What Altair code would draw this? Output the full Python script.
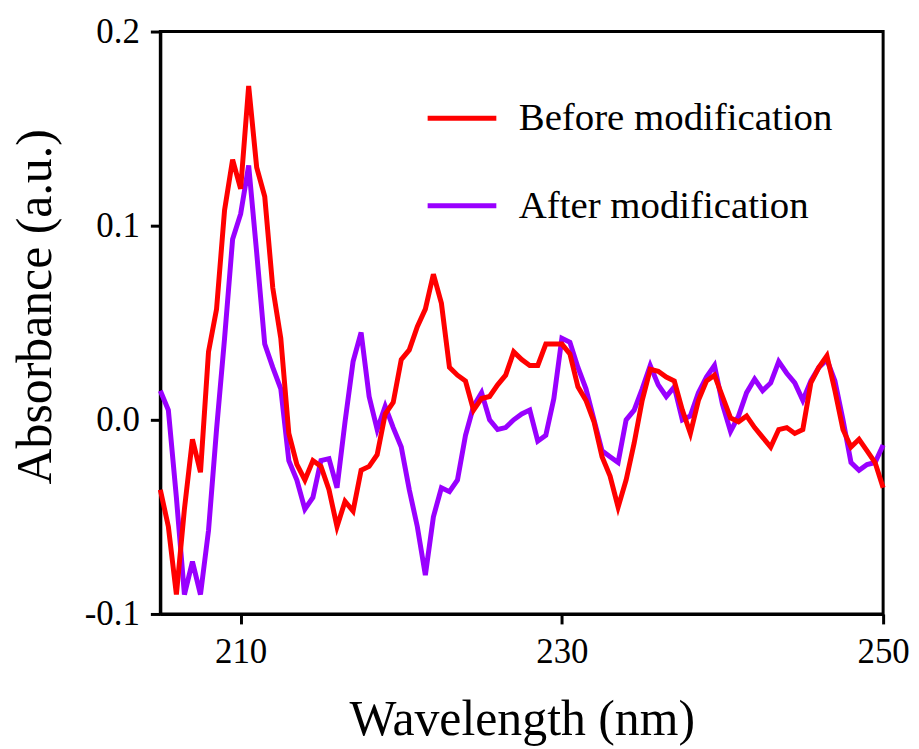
import altair as alt
import pandas as pd

wavelength = [205.0, 205.5, 206.0, 206.5, 207.0, 207.5, 208.0, 208.5, 209.0, 209.5,
              210.0, 210.5, 211.0, 211.5, 212.0, 212.5, 213.0, 213.5, 214.0, 214.5,
              215.0, 215.5, 216.0, 216.5, 217.0, 217.5, 218.0, 218.5, 219.0, 219.5,
              220.0, 220.5, 221.0, 221.5, 222.0, 222.5, 223.0, 223.5, 224.0, 224.5,
              225.0, 225.5, 226.0, 226.5, 227.0, 227.5, 228.0, 228.5, 229.0, 229.5,
              230.0, 230.5, 231.0, 231.5, 232.0, 232.5, 233.0, 233.5, 234.0, 234.5,
              235.0, 235.5, 236.0, 236.5, 237.0, 237.5, 238.0, 238.5, 239.0, 239.5,
              240.0, 240.5, 241.0, 241.5, 242.0, 242.5, 243.0, 243.5, 244.0, 244.5,
              245.0, 245.5, 246.0, 246.5, 247.0, 247.5, 248.0, 248.5, 249.0, 249.5,
              250.0]

before = [-0.036, -0.055, -0.090, -0.046, -0.010, -0.027, 0.035, 0.057, 0.108, 0.134,
          0.119, 0.172, 0.130, 0.115, 0.068, 0.042, -0.007, -0.023, -0.031, -0.021,
          -0.024, -0.036, -0.055, -0.042, -0.047, -0.026, -0.024, -0.018, 0.003, 0.009,
          0.031, 0.036, 0.048, 0.057, 0.075, 0.060, 0.027, 0.023, 0.020, 0.005,
          0.011, 0.012, 0.018, 0.023, 0.035, 0.031, 0.028, 0.028, 0.039, 0.039,
          0.039, 0.034, 0.017, 0.010, -0.001, -0.019, -0.029, -0.045, -0.031, -0.012,
          0.010, 0.026, 0.025, 0.022, 0.020, 0.005, -0.007, 0.010, 0.020, 0.023,
          0.012, 0.001, -0.001, 0.002, -0.004, -0.009, -0.014, -0.005, -0.004, -0.007,
          -0.005, 0.019, 0.027, 0.033, 0.015, -0.005, -0.014, -0.010, -0.016, -0.022,
          -0.035]

after = [0.015, 0.005, -0.040, -0.090, -0.073, -0.090, -0.057, -0.005, 0.042, 0.093,
         0.106, 0.131, 0.086, 0.039, 0.027, 0.016, -0.021, -0.031, -0.046, -0.040,
         -0.021, -0.020, -0.035, -0.001, 0.030, 0.045, 0.012, -0.005, 0.007, -0.004,
         -0.014, -0.036, -0.055, -0.080, -0.050, -0.035, -0.037, -0.031, -0.008, 0.007,
         0.014, 0.000, -0.005, -0.004, 0.000, 0.003, 0.005, -0.011, -0.008, 0.011,
         0.042, 0.040, 0.027, 0.016, 0.000, -0.016, -0.019, -0.022, 0.000, 0.005,
         0.016, 0.028, 0.018, 0.012, 0.017, 0.000, 0.002, 0.014, 0.022, 0.028,
         0.008, -0.006, 0.002, 0.014, 0.021, 0.015, 0.019, 0.030, 0.024, 0.019,
         0.010, 0.020, 0.027, 0.031, 0.020, 0.000, -0.022, -0.026, -0.023, -0.022,
         -0.013]

series_names = ["Before modification", "After modification"]
series_colors = ["#FF0000", "#9900FF"]
x_ticks = [210, 230, 250]
y_ticks = [-0.1, 0.0, 0.1, 0.2]

rows = []
for w, v in zip(wavelength, after):
    rows.append({"wavelength": w, "absorbance": v, "series": series_names[1]})
for w, v in zip(wavelength, before):
    rows.append({"wavelength": w, "absorbance": v, "series": series_names[0]})
df = pd.DataFrame(rows)

FONT = "Liberation Serif"

chart = (
    alt.Chart(df)
    .mark_line(strokeWidth=5)
    .encode(
        x=alt.X(
            "wavelength:Q",
            scale=alt.Scale(domain=[205, 250], nice=False, zero=False),
            axis=alt.Axis(
                values=x_ticks,
                title="Wavelength (nm)",
                format="d",
                labelBaseline="alphabetic",
                labelPadding=39,
                titleY=121,
                titleBaseline="alphabetic",
                labelFlush=False,
            ),
        ),
        y=alt.Y(
            "absorbance:Q",
            scale=alt.Scale(domain=[-0.1, 0.2], nice=False, zero=False),
            axis=alt.Axis(
                values=y_ticks,
                title="Absorbance (a.u.)",
                labelExpr="datum.value < 0 ? '-' + format(-datum.value, '.1f') : format(datum.value, '.1f')",
                labelPadding=11,
                titleAngle=270,
                titleX=-110,
                titleY=276,
                titleBaseline="alphabetic",
                titleAlign="center",
                labelFlush=False,
            ),
        ),
        color=alt.Color(
            "series:N",
            scale=alt.Scale(domain=series_names, range=series_colors),
            legend=alt.Legend(
                title=None,
                orient="none",
                legendX=266,
                legendY=50,
                symbolType="stroke",
                symbolSize=4761,
                symbolStrokeWidth=5,
                labelFont=FONT,
                labelFontSize=39,
                labelOffset=20,
                labelLimit=0,
                rowPadding=31,
                padding=0,
            ),
        ),
    )
    .properties(
        width=726,
        height=585,
        autosize=alt.AutoSizeParams(type="none"),
        padding={"left": 153, "top": 22, "right": 28, "bottom": 134},
    )
    .configure_view(stroke="black", strokeWidth=3)
    .configure_axis(
        grid=False,
        domainColor="black",
        domainWidth=3,
        tickColor="black",
        tickWidth=3,
        tickSize=10,
        labelFont=FONT,
        labelFontSize=35,
        labelColor="black",
        titleFont=FONT,
        titleFontSize=50,
        titleFontWeight="normal",
        titleColor="black",
    )
)

chart.save("out.html", embed_options={"renderer": "svg", "actions": False})
